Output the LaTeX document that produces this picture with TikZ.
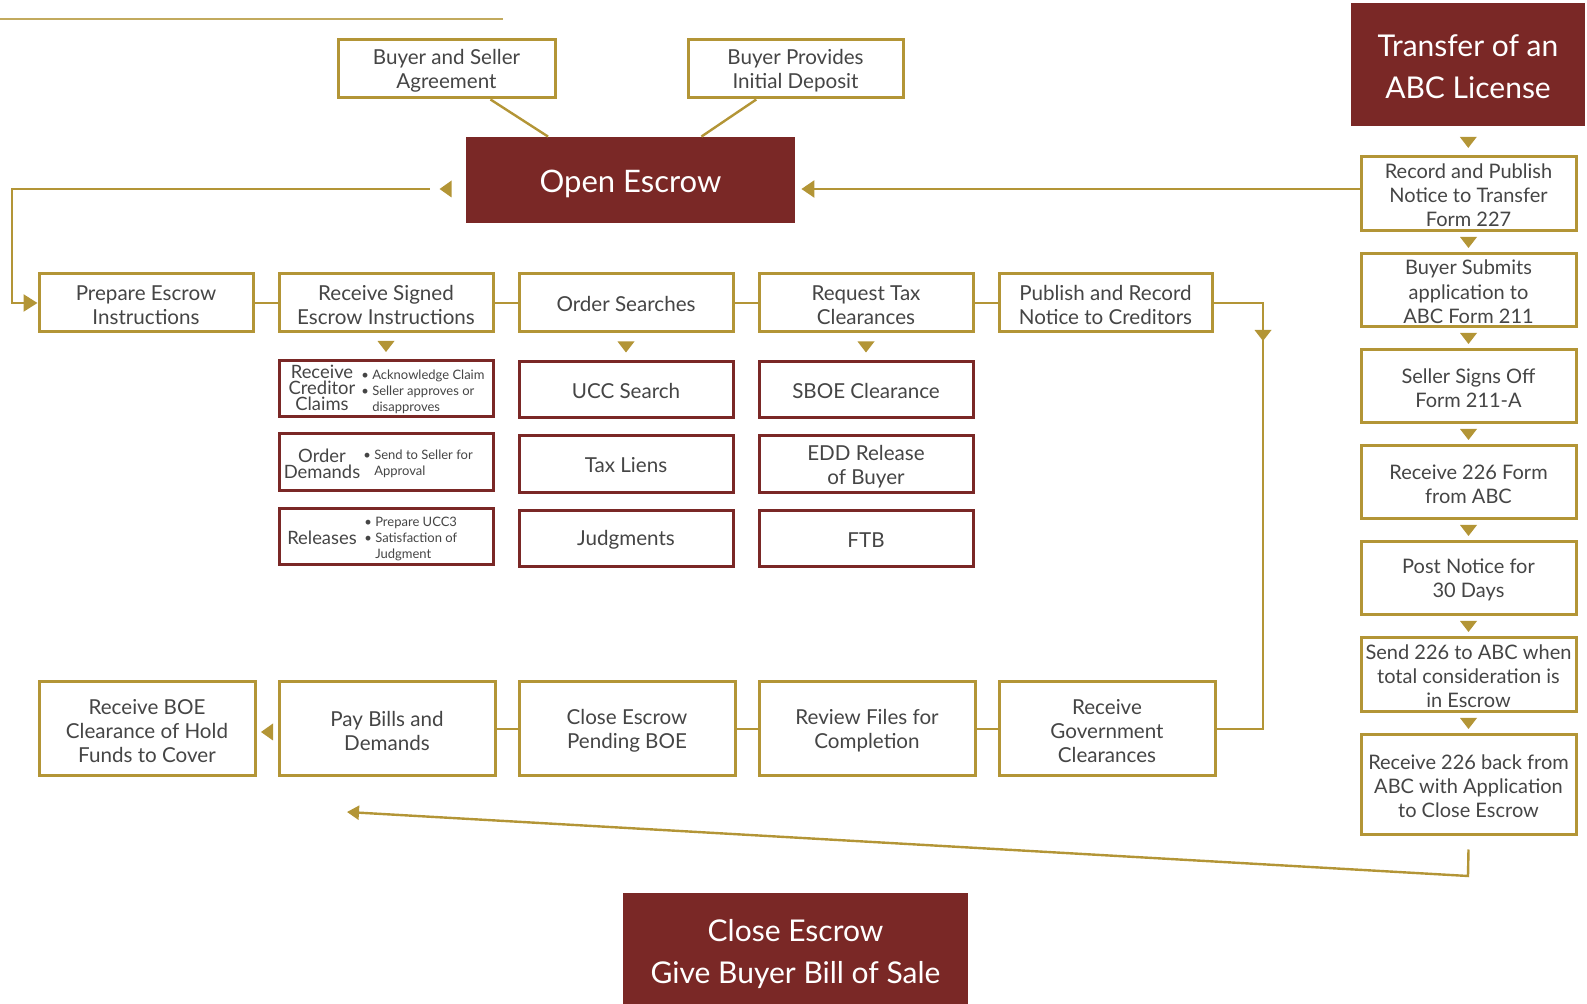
\documentclass[tikz,border=0pt]{standalone}
\usepackage{fontspec}
\setmainfont{Lato}
\usetikzlibrary{calc,arrows.meta}
\definecolor{gold}{HTML}{B39536}
\definecolor{wine}{HTML}{7A2826}
\definecolor{ink}{HTML}{454545}
\newcommand\dtri[1]{\fill[gold] #1 ++(-8.5,-5.5) -- ++(17,0) -- ++(-8.5,11) -- cycle;}
\newcommand\ltri[1]{\fill[gold] #1 ++(-6,0) -- ++(12,-8.5) -- ++(0,17) -- cycle;}
\newcommand\lft[1][9.4pt]{\rule{0pt}{#1}}
\tikzset{
 wh/.style 2 args={minimum width=#1*0.5pt, minimum height=#2*0.5pt},
 lift/.style={execute at begin node={\rule{0pt}{#1}}},
 gbox/.style={draw=gold, line width=1.5pt, fill=white, text=ink, align=center, inner sep=0pt, font=\fontsize{10.3}{12.1}\selectfont, lift=8.4pt},
 cbox/.style={gbox, font=\fontsize{10}{12.1}\selectfont},
 rbox/.style={draw=wine, line width=1.5pt, fill=white, inner sep=0pt},
 wbox/.style={gbox, draw=wine},
 subt/.style={text=ink, align=center, inner sep=0pt, font=\fontsize{9.2}{8.1}\selectfont},
 subb/.style={text=ink, align=left, inner sep=0pt, font=\fontsize{6.5}{8.1}\selectfont},
 big/.style={fill=wine, text=white, align=center, inner sep=0pt, font=\fontsize{15}{21}\selectfont},
 conn/.style={draw=gold, line width=1.2pt},
}
\begin{document}
\begin{tikzpicture}[x=0.5pt,y=-0.5pt]
\useasboundingbox (0,0) rectangle (1587,1004);
% decorative top line
\coordinate (tl1) at (0,19);
\coordinate (tl2) at (503,19);
\draw[gold!80, line width=1pt] (tl1) -- (tl2);

% top boxes
\node[gbox, wh={217}{58}] (bsa) at (446.5,69) {\lft Buyer and Seller\\Agreement};
\node[gbox, wh={215}{58}] (bpd) at (795.5,69) {\lft Buyer Provides\\Initial Deposit};
\node[big, wh={329}{86}, font=\fontsize{15.5}{18}\selectfont, lift=15pt] (open) at (630.5,180) {Open Escrow};
\node[big, wh={234}{123}] (abc) at (1468,64.5) {\lft[13pt]Transfer of an\\ABC License};

\draw[conn] ($(bsa.south west)!0.7!(bsa.south east)$) -- ($(open.north west)!0.25!(open.north east)$);
\draw[conn] ($(bpd.south west)!0.32!(bpd.south east)$) -- ($(open.north west)!0.715!(open.north east)$);

% right column
\node[cbox, wh={215}{74}] (r1) at (1468.5,194) {\lft[8.7pt]Record and Publish\\Notice to Transfer\\Form 227};
\node[cbox, wh={215}{73}] (r2) at (1468.5,290.5) {\lft[8.7pt]Buyer Submits\\application to\\ABC Form 211};
\node[cbox, wh={215}{73}] (r3) at (1468.5,386.5) {\lft[8.7pt]Seller Signs Off\\Form 211-A};
\node[cbox, wh={215}{73}] (r4) at (1468.5,482.5) {\lft[8.7pt]Receive 226 Form\\from ABC};
\node[cbox, wh={215}{73}] (r5) at (1468.5,578.5) {\lft[8.7pt]Post Notice for\\30 Days};
\node[cbox, wh={215}{74}] (r6) at (1468.5,675) {\lft[8.7pt]Send 226 to ABC when\\total consideration is\\in Escrow};
\node[cbox, wh={215}{100}] (r7) at (1468.5,785) {\lft[8.7pt]Receive 226 back from\\ABC with Application\\to Close Escrow};

\dtri{($(abc.south)!0.55!(r1.north)$)}
\dtri{($(r1.south)!0.5!(r2.north)$)}
\dtri{($(r2.south)!0.5!(r3.north)$)}
\dtri{($(r3.south)!0.5!(r4.north)$)}
\dtri{($(r4.south)!0.5!(r5.north)$)}
\dtri{($(r5.south)!0.5!(r6.north)$)}
\dtri{($(r6.south)!0.5!(r7.north)$)}

% middle row
\node[gbox, wh={214}{58}] (prep) at (146,303) {\lft Prepare Escrow\\Instructions};
\node[gbox, wh={214}{58}] (recv) at (386,303) {\lft Receive Signed\\Escrow Instructions};
\node[gbox, wh={214}{58}] (ord) at (626,303) {Order Searches};
\node[gbox, wh={214}{58}] (req) at (866,303) {\lft Request Tax\\Clearances};
\node[gbox, wh={213}{58}] (pub) at (1105.5,303) {\lft Publish and Record\\Notice to Creditors};
\draw[conn] (prep) -- (recv);
\draw[conn] (recv) -- (ord);
\draw[conn] (ord) -- (req);
\draw[conn] (req) -- (pub);

% open escrow arrows
\coordinate (oL) at ($(open.west)+(-36,9)$);
\coordinate (cL) at (12,189);
\draw[conn, -{Triangle[length=7pt,width=8.5pt]}] (oL) -- (cL) |- (prep.west);
\ltri{($(open.west)+(-20,9)$)}
\coordinate (oR) at ($(open.east)+(6,9)$);
\draw[conn, -{Triangle[length=6.5pt,width=8.5pt]}] ($(r1.west)+(0,-5)$) -- (oR);

% sub boxes column 2
\node[rbox, wh={214}{56}] (cc) at (386,389) {};
\node[subt] (cct) at (322,388) {Receive\\Creditor\\Claims};
\node[subb, anchor=west] (ccb) at (361,392) {\textbullet\ Acknowledge Claim\\\textbullet\ Seller approves or\\\phantom{\textbullet\ }disapproves};
\node[rbox, wh={214}{57}] (od) at (386,462.5) {};
\node[subt] (odt) at (322,464) {Order\\Demands};
\node[subb, anchor=west] (odb) at (363,463.5) {\textbullet\ Send to Seller for\\\phantom{\textbullet\ }Approval};
\node[rbox, wh={214}{56}] (rel) at (386,537) {};
\node[subt] (relt) at (322,538) {Releases};
\node[subb, anchor=west] (relb) at (364,539) {\textbullet\ Prepare UCC3\\\textbullet\ Satisfaction of\\\phantom{\textbullet\ }Judgment};

% sub boxes column 3
\node[wbox, wh={214}{56}] (ucc) at (626,390) {UCC Search};
\node[wbox, wh={214}{57}] (tl) at (626,464.5) {Tax Liens};
\node[wbox, wh={214}{56}] (jd) at (626,539) {Judgments};
% sub boxes column 4
\node[wbox, wh={214}{56}] (sboe) at (866,390) {SBOE Clearance};
\node[wbox, wh={214}{57}] (edd) at (866,464.5) {\lft EDD Release\\of Buyer};
\node[wbox, wh={214}{56}] (ftb) at (866,539) {FTB};

\dtri{($(recv.south)!0.5!(cc.north)$)}
\dtri{($(ord.south)!0.5!(ucc.north)$)}
\dtri{($(req.south)!0.5!(sboe.north)$)}

% bottom row
\node[gbox, wh={216}{94}] (boe) at (147,729) {\lft Receive BOE\\Clearance of Hold\\Funds to Cover};
\node[gbox, wh={216}{94}] (pay) at (387,729) {\lft Pay Bills and\\Demands};
\node[gbox, wh={216}{94}] (ce) at (627,729) {\lft Close Escrow\\Pending BOE};
\node[gbox, wh={216}{94}] (rev) at (867,729) {\lft Review Files for\\Completion};
\node[gbox, wh={216}{94}] (gov) at (1107,729) {\lft Receive\\Government\\Clearances};
\draw[conn] (gov) -- (rev);
\draw[conn] (rev) -- (ce);
\draw[conn] (ce) -- (pay);
\ltri{($(boe.east)!0.5!(pay.west)+(0,3)$)}

% right descending connector
\coordinate (vr) at (1263,303);
\draw[conn] (pub.east) -- (vr) |- (gov.east);
\dtri{(1263,335.5)}

% diagonal return
\coordinate (d1) at ($(r7.south)+(0,13)$);
\coordinate (d2) at (1468,876);
\coordinate (d3) at (347,812);
\draw[conn, -{Triangle[length=6pt,width=7pt]}] (d1) -- (d2) -- (d3);

% close escrow
\node[big, wh={345}{112}] (close) at (795.5,949) {\lft[16pt]Close Escrow\\Give Buyer Bill of Sale};
\end{tikzpicture}
\end{document}
